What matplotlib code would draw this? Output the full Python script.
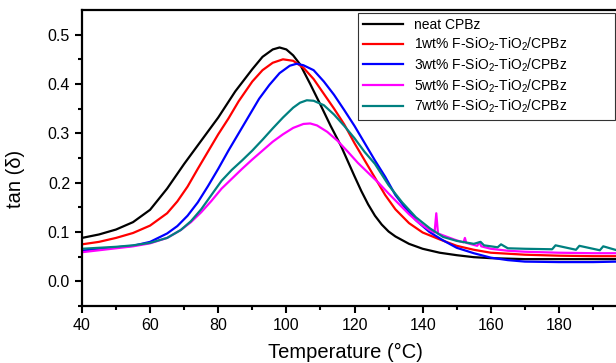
import matplotlib
matplotlib.use("Agg")
import matplotlib.pyplot as plt
from matplotlib.patches import Rectangle

plt.rcParams["font.family"] = ["Liberation Sans", "DejaVu Sans"]
plt.rcParams["mathtext.fontset"] = "custom"
plt.rcParams["mathtext.rm"] = "Liberation Sans"
plt.rcParams["mathtext.it"] = "Liberation Sans:italic"

# Data (temperature in °C, tan delta).
t_neat = [40, 45, 50, 55, 60, 65, 70, 75, 80, 85, 90, 93, 96, 98, 100, 102,
          104, 107, 110, 113, 116, 120, 122, 124, 126, 128, 130, 132, 136,
          140, 145, 150, 155, 160, 170, 180, 190, 197]
y_neat = [0.088, 0.095, 0.105, 0.120, 0.145, 0.188, 0.238, 0.285, 0.332,
          0.385, 0.430, 0.455, 0.470, 0.474, 0.470, 0.458, 0.440, 0.400,
          0.358, 0.315, 0.275, 0.213, 0.183, 0.156, 0.133, 0.115, 0.101,
          0.091, 0.076, 0.066, 0.058, 0.053, 0.049, 0.047, 0.045, 0.045,
          0.045, 0.045]

t_1wt = [40, 45, 50, 55, 60, 65, 68, 71, 74, 77, 80, 83, 86, 90, 93, 96, 99,
         102, 105, 108, 111, 114, 117, 120, 123, 126, 129, 132, 136, 140, 145,
         150, 155, 160, 170, 180, 190, 197]
y_1wt = [0.075, 0.080, 0.088, 0.098, 0.113, 0.138, 0.162, 0.192, 0.228,
         0.263, 0.298, 0.330, 0.365, 0.405, 0.428, 0.443, 0.450, 0.447,
         0.433, 0.410, 0.380, 0.350, 0.318, 0.280, 0.245, 0.210, 0.175,
         0.146, 0.118, 0.099, 0.085, 0.072, 0.064, 0.058, 0.054, 0.052,
         0.051, 0.051]

t_3wt = [40, 45, 50, 55, 60, 65, 68, 71, 74, 77, 80, 83, 86, 89, 92, 95, 98,
         101, 103, 105, 108, 111, 114, 117, 120, 123, 126, 129, 132, 135, 138,
         142, 146, 150, 155, 160, 165, 170, 180, 190, 197]
y_3wt = [0.062, 0.066, 0.069, 0.072, 0.080, 0.097, 0.112, 0.133, 0.160,
         0.193, 0.228, 0.265, 0.300, 0.335, 0.370, 0.398, 0.422, 0.437,
         0.441, 0.438, 0.428, 0.405, 0.378, 0.347, 0.315, 0.280, 0.245,
         0.212, 0.175, 0.148, 0.124, 0.100, 0.083, 0.068, 0.057, 0.048,
         0.043, 0.040, 0.039, 0.039, 0.040]

t_5wt = [40, 45, 50, 55, 60, 65, 69, 72, 75, 78, 81, 84, 87, 90, 93, 96, 99,
         102, 105, 107, 109, 112, 115, 118, 121, 124, 127, 130, 133, 136, 139,
         142, 143.5, 144, 144.5, 148, 150, 152, 152.4, 152.8, 156, 156.7,
         157.2, 160, 165, 170, 180, 190, 197]
y_5wt = [0.059, 0.063, 0.067, 0.071, 0.077, 0.088, 0.104, 0.120, 0.140,
         0.163, 0.188, 0.208, 0.228, 0.247, 0.265, 0.283, 0.298, 0.311,
         0.319, 0.320, 0.316, 0.303, 0.285, 0.263, 0.240, 0.220, 0.200,
         0.178, 0.157, 0.136, 0.118, 0.104, 0.099, 0.138, 0.097, 0.088,
         0.083, 0.079, 0.088, 0.078, 0.072, 0.079, 0.071, 0.066, 0.062,
         0.060, 0.058, 0.057, 0.057]

t_7wt = [40, 45, 50, 55, 60, 65, 69, 72, 75, 78, 81, 84, 87, 90, 93, 96, 99,
         102, 104, 106, 108, 111, 114, 117, 120, 123, 126, 130, 134, 138, 142,
         146, 150, 155, 157, 158, 162, 163, 165, 170, 178, 179, 185, 186, 192,
         193, 197]
y_7wt = [0.066, 0.068, 0.070, 0.073, 0.078, 0.088, 0.104, 0.122, 0.146,
         0.175, 0.204, 0.226, 0.245, 0.265, 0.287, 0.310, 0.332, 0.352,
         0.362, 0.367, 0.366, 0.357, 0.338, 0.315, 0.290, 0.262, 0.238,
         0.195, 0.160, 0.130, 0.108, 0.090, 0.082, 0.076, 0.080, 0.073,
         0.069, 0.075, 0.067, 0.066, 0.065, 0.073, 0.064, 0.072, 0.063,
         0.071, 0.063]

series = [
    (t_neat, y_neat, "black", "neat CPBz"),
    (t_1wt, y_1wt, "#ff0000", r"1wt% F-SiO$_2$-TiO$_2$/CPBz"),
    (t_3wt, y_3wt, "#0000ff", r"3wt% F-SiO$_2$-TiO$_2$/CPBz"),
    (t_5wt, y_5wt, "#ff00ff", r"5wt% F-SiO$_2$-TiO$_2$/CPBz"),
    (t_7wt, y_7wt, "#008080", r"7wt% F-SiO$_2$-TiO$_2$/CPBz"),
]

fig = plt.figure(figsize=(6.16, 3.63), dpi=100)
ax = fig.add_axes([0.133, 0.157, 0.885, 0.8155])

for t, y, c, lab in series:
    ax.plot(t, y, color=c, linewidth=1.6, label=lab)

ax.set_xlim(40, 200)
ax.set_ylim(-0.05, 0.55)
ax.set_xticks([40, 60, 80, 100, 120, 140, 160, 180])
ax.set_xticks(range(50, 200, 20), minor=True)
ax.set_yticks([0.0, 0.1, 0.2, 0.3, 0.4, 0.5])
ax.set_yticks([-0.05, 0.05, 0.15, 0.25, 0.35, 0.45], minor=True)
ax.tick_params(which="major", direction="out", length=5, width=1.5,
               labelsize=11.5, top=False, right=False)
ax.tick_params(which="minor", direction="out", length=3, width=1.5,
               top=False, right=False)
for s in ax.spines.values():
    s.set_linewidth(1.6)

ax.set_xlabel("Temperature (°C)", fontsize=14.5)
ax.set_ylabel("tan (δ)", fontsize=14.5)
ax.xaxis.set_label_coords(0.483, -0.125)
ax.yaxis.set_label_coords(-0.105, 0.43)

# legend box drawn separately (it is wider than its text in the original)
box = Rectangle((358 / 616, 1 - 120 / 363), 257 / 616, 107 / 363,
                transform=fig.transFigure, facecolor="white",
                edgecolor="#333333", linewidth=0.8, zorder=4, clip_on=False)
ax.add_patch(box)
leg = ax.legend(loc="upper left", bbox_to_anchor=(363 / 616, 1 - 18 / 363),
                bbox_transform=fig.transFigure, fontsize=10, frameon=False,
                handlelength=2.9, handletextpad=0.8, labelspacing=0.25,
                borderaxespad=0, borderpad=0)
leg.set_zorder(6)

fig.savefig("out.png", dpi=100)
